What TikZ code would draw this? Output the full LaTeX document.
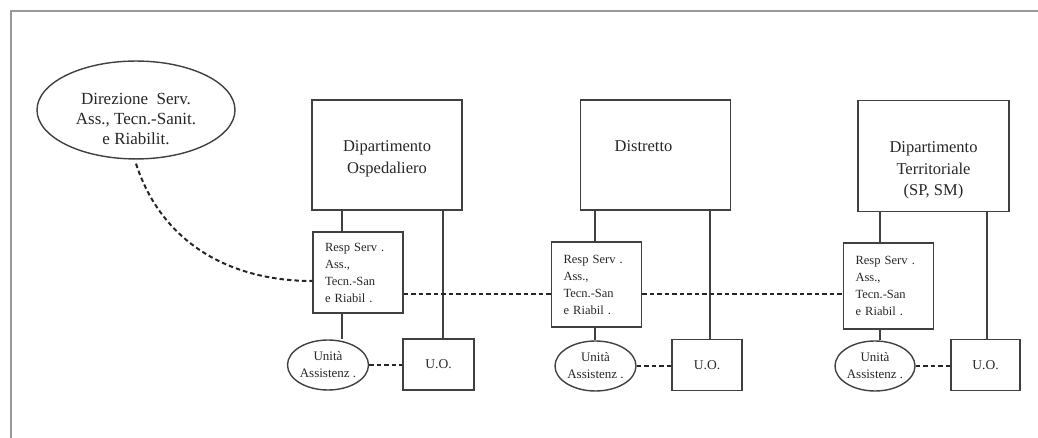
\documentclass[tikz,border=0pt]{standalone}
\usepackage{fontspec}
\setmainfont{Liberation Serif}
\usepackage{tikz}
\usetikzlibrary{positioning, shapes.geometric, calc}

\newcommand{\diptext}[1]{\parbox[c][100pt][t]{140pt}{\centering\vspace*{36pt}#1}}

\begin{document}
\begin{tikzpicture}[
      x=1pt, y=1pt,
      every node/.style={text=black!85},
      frame/.style={draw=black!40, line width=2.4pt},
      dipbox/.style={draw=black!75, line width=1.4pt, inner sep=5pt,
        font=\fontsize{16.5}{21.5}\selectfont},
      respbox/.style={draw=black!75, line width=1.4pt, align=left,
        text width=66pt, inner xsep=12pt, font=\fontsize{12.5}{17}\selectfont},
      dirbox/.style={ellipse, draw=black!75, line width=1.4pt, inner sep=0pt,
        minimum width=198pt, minimum height=89pt, align=center,
        font=\fontsize{17}{20}\selectfont},
      uabox/.style={ellipse, draw=black!75, line width=1.4pt, inner sep=0pt,
        minimum width=81pt, minimum height=50pt, align=center,
        font=\fontsize{13}{17}\selectfont},
      uobox/.style={draw=black!75, line width=1.4pt, minimum width=70pt,
        minimum height=51pt, font=\fontsize{13.5}{16}\selectfont},
      link/.style={draw=black!75, line width=1.4pt},
      dashline/.style={draw=black!85, line width=2pt, dash pattern=on 4.5pt off 3pt}
    ]
      \useasboundingbox (0,0) rectangle (1038,438);
      \draw[frame] (11,0) -- (11,427) -- (1038,427);

      % top level
      \node[dirbox] (dir) at (136,328)
        {\rule{0pt}{29pt}Direzione\ \ Serv.\\ Ass., Tecn.-Sanit.\\ e Riabilit.};
      \node[dipbox, minimum width=150pt, minimum height=110pt] (dep1) at (387,283)
        {\diptext{Dipartimento\\ Ospedaliero}};
      \node[dipbox, minimum width=149pt, minimum height=110pt] (dep2) at (655.5,283)
        {\diptext{\hspace*{-24pt}Distretto}};
      \node[dipbox, minimum width=151pt, minimum height=111pt] (dep3) at (933.5,282)
        {\diptext{Dipartimento\\ Territoriale\\ (SP, SM)}};

      % responsabili
      \node[respbox, minimum height=81pt] (resp1) at (358,165.5)
        {Resp Serv~.\\ Ass.,\\ Tecn.-San\\ e Riabil~.};
      \node[respbox, minimum height=85pt] (resp2) at (596.5,153.5)
        {Resp Serv~.\\ Ass.,\\ Tecn.-San\\ e Riabil~.};
      \node[respbox, minimum height=86pt] (resp3) at (888.5,152)
        {Resp Serv~.\\ Ass.,\\ Tecn.-San\\ e Riabil~.};

      % unita
      \node[uabox] (ua1) at (328,73) {Unità\\ Assistenz~.};
      \node[uabox] (ua2) at (595.5,72) {Unità\\ Assistenz~.};
      \node[uabox, minimum width=80pt] (ua3) at (875,72) {Unità\\ Assistenz~.};
      \node[uobox, minimum width=71pt] (uo1) at (438.5,73.5) {U.O.};
      \node[uobox] (uo2) at (707,73) {U.O.};
      \node[uobox, minimum width=69pt] (uo3) at (985.5,73) {U.O.};

      % drop points under the departments
      \coordinate (a1) at ([xshift=-45pt]dep1.south);
      \coordinate (b1) at ([xshift=56pt]dep1.south);
      \coordinate (a2) at ([xshift=-60.5pt]dep2.south);
      \coordinate (b2) at ([xshift=54.5pt]dep2.south);
      \coordinate (a3) at ([xshift=-53.5pt]dep3.south);
      \coordinate (b3) at ([xshift=53.5pt]dep3.south);
      \coordinate (dl) at (0,144);

      \draw[link] (a1) -- (a1 |- resp1.north);
      \draw[link] (b1) -- (b1 |- uo1.north);
      \draw[link] (resp1.south -| a1) -- (ua1.north -| a1);
      \draw[link] (a2) -- (a2 |- resp2.north);
      \draw[link] (b2) -- (b2 |- uo2.north);
      \draw[link] (resp2.south -| a2) -- (ua2.north -| a2);
      \draw[link] (a3) -- (a3 |- resp3.north);
      \draw[link] (b3) -- (b3 |- uo3.north);
      \draw[link] (resp3.south -| a3) -- (ua3.north -| a3);

      % dashed relations
      \draw[dashline] ([yshift=-4pt]dir.south) to[out=-72, in=180] ([yshift=-8.5pt]resp1.west);
      \draw[dashline] (resp1.east |- dl) -- (resp2.west |- dl);
      \draw[dashline] (resp2.east |- dl) -- (resp3.west |- dl);
      \draw[dashline] (ua1.east) -- (ua1.east -| uo1.west);
      \draw[dashline] (ua2.east) -- (ua2.east -| uo2.west);
      \draw[dashline] (ua3.east) -- (ua3.east -| uo3.west);
    \end{tikzpicture}
\end{document}
